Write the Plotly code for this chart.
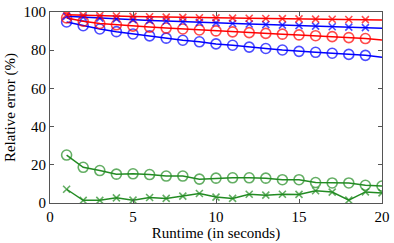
import plotly.graph_objects as go

x = list(range(1, 21))
red_x = [98.6, 98.3, 98.1, 97.9, 97.7, 97.5, 97.3, 97.2, 97.0, 96.9, 96.8, 96.7, 96.6, 96.5, 96.4, 96.3, 96.2, 96.1, 96.0, 95.8]
blue_x = [97.8, 97.3, 96.8, 96.4, 96.0, 95.6, 95.3, 94.9, 94.6, 94.3, 94.0, 93.7, 93.4, 93.1, 92.9, 92.6, 92.3, 92.1, 91.8, 91.5]
red_o = [96.9, 95.2, 94.0, 93.3, 92.6, 92.1, 91.6, 91.1, 90.6, 90.1, 89.6, 89.2, 88.8, 88.4, 88.0, 87.6, 87.1, 86.6, 86.1, 85.4]
blue_o = [94.8, 92.8, 91.1, 89.7, 88.5, 87.5, 86.3, 85.2, 84.4, 83.3, 82.6, 81.6, 80.9, 80.1, 79.4, 78.9, 78.4, 77.8, 77.3, 76.3]
green_o = [25.1, 18.7, 17.0, 15.1, 15.3, 14.9, 14.1, 14.1, 12.5, 13.0, 13.2, 13.2, 13.0, 12.2, 12.2, 10.7, 10.5, 10.5, 9.3, 8.9]
green_x = [7.2, 1.4, 1.4, 2.7, 1.5, 2.9, 2.4, 3.6, 5.0, 3.1, 2.4, 4.6, 4.1, 4.6, 4.5, 6.4, 5.7, 1.5, 5.8, 5.3]
x_ticks = [0, 5, 10, 15, 20]
y_ticks = [0, 20, 40, 60, 80, 100]

RED = "#ff0000"
BLUE = "#0000ff"
GREEN = "#228b22"
FONT = "Liberation Serif"

fig = go.Figure()

def add(y, color, symbol, msize, last_marker=True):
    sizes = [msize] * len(y)
    if not last_marker:
        sizes[-1] = 0
    fig.add_trace(go.Scatter(
        x=x, y=y, mode="lines+markers",
        line=dict(color=color, width=1.5),
        marker=dict(symbol=symbol, size=sizes, color=color,
                    line=dict(color=color, width=1.6)),
        showlegend=False, cliponaxis=True, hoverinfo="skip"))

add(blue_o, BLUE, "circle-open", 10, False)
add(red_o, RED, "circle-open", 10, False)
add(blue_x, BLUE, "x-thin-open", 7, False)
add(red_x, RED, "x-thin-open", 7, False)
add(green_o, GREEN, "circle-open", 10)
add(green_x, GREEN, "x-thin-open", 7)

axis_common = dict(
    showgrid=False, zeroline=False, showline=True, linecolor="#555555",
    linewidth=1, mirror="ticks", ticks="inside", ticklen=4,
    tickcolor="#555555", tickfont=dict(family=FONT, size=15, color="black"),
    ticklabeloverflow="allow",
)

fig.update_layout(
    width=394, height=243,
    margin=dict(l=50, r=4, t=9, b=40),
    paper_bgcolor="white", plot_bgcolor="white",
    font=dict(family=FONT, size=15, color="black"),
    xaxis=dict(range=[0, 20.0001], tickvals=x_ticks,
               title=dict(text="Runtime (in seconds)", standoff=0,
                          font=dict(family=FONT, size=15)),
               **axis_common),
    yaxis=dict(range=[0, 100.0001], tickvals=y_ticks,
               title=dict(text="Relative error (%)", standoff=4,
                          font=dict(family=FONT, size=15)),
               **axis_common),
)

fig.write_html("out.html", config={"displayModeBar": False},
               post_script="document.body.style.margin='0';document.body.style.overflow='hidden';")
